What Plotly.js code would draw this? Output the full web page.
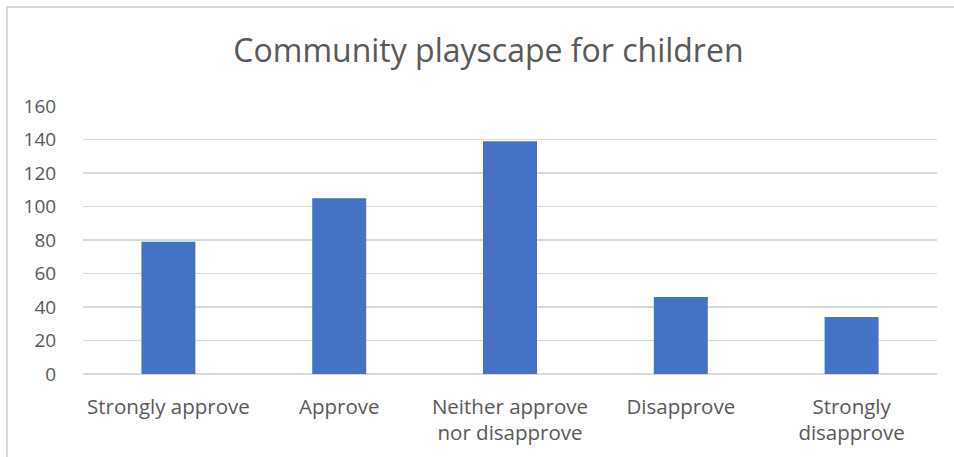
<!DOCTYPE html>
<html><head><meta charset="utf-8">
<script src="https://cdn.plot.ly/plotly-3.0.1.min.js"></script>
<style>html,body{margin:0;padding:0;background:#fff;overflow:hidden}
#wrap{position:relative;width:954px;height:457px}
#chart{position:absolute;left:0;top:0;width:954px;height:457px}
#frame{position:absolute;left:6px;top:6px;width:960px;height:470px;border-left:2px solid #d9d9d9;border-top:2px solid #d9d9d9;pointer-events:none}
</style></head>
<body><div id="wrap"><div id="chart"></div><div id="frame"></div></div>
<script>
const categories = ["Strongly approve", "Approve", "Neither approve<br>nor disapprove", "Disapprove", "Strongly<br>disapprove"];
const values = [79, 105, 139, 46, 34];
const tickVals = [0, 20, 40, 60, 80, 100, 120, 140, 160];

const font = "Open Sans, Liberation Sans, sans-serif";
Plotly.newPlot("chart", [{
  type: "bar", x: categories, y: values,
  marker: {color: "#4472C4"}, hoverinfo: "none"
}], {
  width: 954, height: 457,
  margin: {l: 83, r: 17, t: 106, b: 83},
  paper_bgcolor: "rgba(0,0,0,0)", plot_bgcolor: "#fff",
  bargap: 0.684,
  title: {text: "Community playscape for children", font: {family: font, size: 32, color: "#595959"}, x: 0.512, xanchor: "center", y: 0.888, yanchor: "middle"},
  xaxis: {tickfont: {family: font, size: 20.5, color: "#595959"}, showgrid: false, showline: false, ticks: "outside", ticklen: 14, tickcolor: "rgba(0,0,0,0)"},
  yaxis: {range: [0, 160], tickvals: tickVals, ticktext: tickVals.map(String), tickfont: {family: font, size: 19, color: "#595959"},
          gridcolor: "#d9d9d9", gridwidth: 1.5, zeroline: true, zerolinecolor: "#d9d9d9", zerolinewidth: 1.5, ticks: "outside", ticklen: 22, tickcolor: "rgba(0,0,0,0)", showline: false},
  showlegend: false
}, {displayModeBar: false, staticPlot: true});
</script></body></html>
